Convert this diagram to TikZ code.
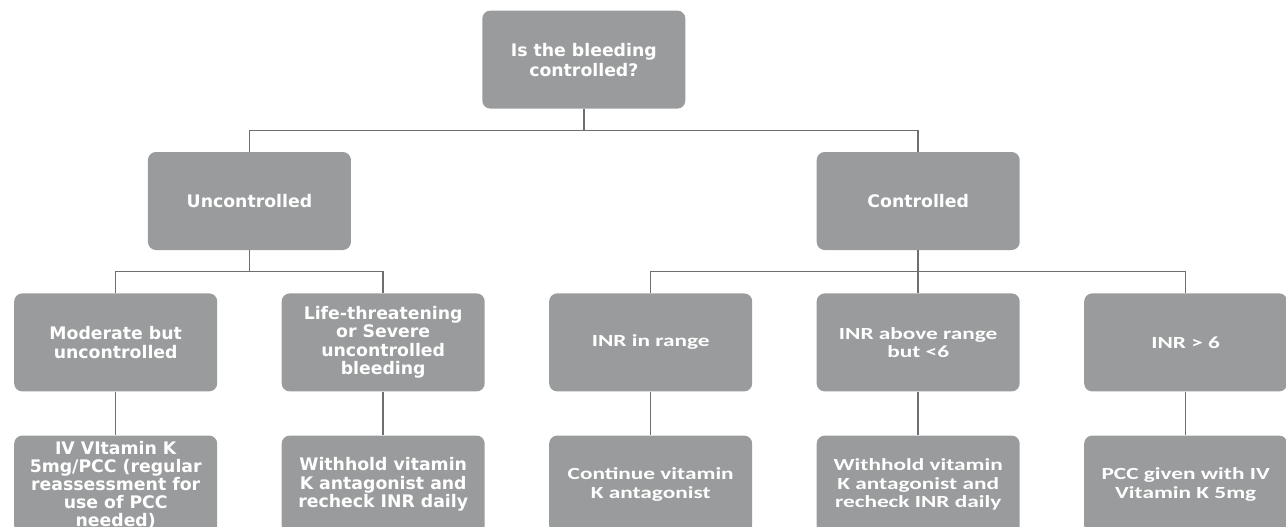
\documentclass[tikz,border=0pt]{standalone}
\usepackage{fontspec}
\usepackage{xcolor}
\usepackage{tikz}
\usetikzlibrary{positioning}
\usetikzlibrary{calc}
\newfontfamily\widefont{DejaVu Sans}
\newfontfamily\narrowfont{Carlito}[FakeStretch=1.37]
\definecolor{boxgray}{HTML}{999B9C}
\definecolor{linegray}{HTML}{6D6E71}

\begin{document}
\begin{tikzpicture}[x=1pt, y=1pt,
    box/.style={fill=boxgray, rounded corners=8pt, minimum width=203pt, minimum height=98pt,
        text=white, align=center, inner sep=2pt, anchor=north},
    wide/.style={box, font=\widefont\bfseries\fontsize{17.3}{18.5}\selectfont},
    narrow/.style={box, font=\narrowfont\bfseries\fontsize{17}{18.5}\selectfont},
    link/.style={draw=linegray, line width=1.5pt}]
    \useasboundingbox (0,0) rectangle (1286,-527);
    \clip (0,0) rectangle (1286,-527);
        \matrix[anchor=north west, inner sep=0pt, column sep=64.5pt, row sep=44pt] at (14,-293) {
        \node[wide] (mod) {Moderate but\\uncontrolled}; &
        \node[wide] (sev) {Life-threatening\\or Severe\\uncontrolled\\bleeding}; &
        \node[narrow] (inr) {INR in range}; &
        \node[narrow] (above) {INR above range\\but <6}; &
        \node[narrow] (high) {INR > 6}; \\
        \node[wide, font=\widefont\bfseries\fontsize{17.3}{18}\selectfont] (modact) {IV VItamin K\\5mg/PCC (regular\\reassessment for\\use of PCC\\needed)}; &
        \node[wide] (sevact) {Withhold vitamin\\K antagonist and\\recheck INR daily}; &
        \node[narrow] (inract) {Continue vitamin\\K antagonist}; &
        \node[narrow] (aboveact) {Withhold vitamin\\K antagonist and\\recheck INR daily}; &
        \node[narrow] (highact) {PCC given with IV\\Vitamin K 5mg}; \\
    };

    \coordinate (lmid) at ($(mod.north)!0.5!(sev.north)$);
    \node[wide, above=43pt of lmid] (unc) {Uncontrolled};
    \node[wide, above=43pt of above] (con) {Controlled};
    \coordinate (tmid) at ($(unc.north)!0.5!(con.north)$);
    \node[wide, font=\widefont\bfseries\fontsize{17.3}{20}\selectfont, above=43pt of tmid] (top) {Is the bleeding\\controlled?};

    \coordinate (bus1) at ($(top.south)!0.5!(top.south |- con.north)$);
    \coordinate (bus2) at ($(unc.south)!0.5!(unc.south |- mod.north)$);
    \coordinate (bus3) at ($(con.south)!0.5!(con.south |- inr.north)$);

    \draw[link] (top.south) -- (bus1);
    \draw[link] (unc.north) |- (bus1) -| (con.north);
    \draw[link] (unc.south) -- (bus2);
    \draw[link] (mod.north) |- (bus2) -| (sev.north);
    \draw[link] (con.south) -- (above.north);
    \draw[link] (inr.north) |- (bus3) -| (high.north);
    \foreach \b in {mod,sev,inr,above,high}
        \draw[link] (\b.south) -- (\b act.north);
        \end{tikzpicture}
\end{document}
